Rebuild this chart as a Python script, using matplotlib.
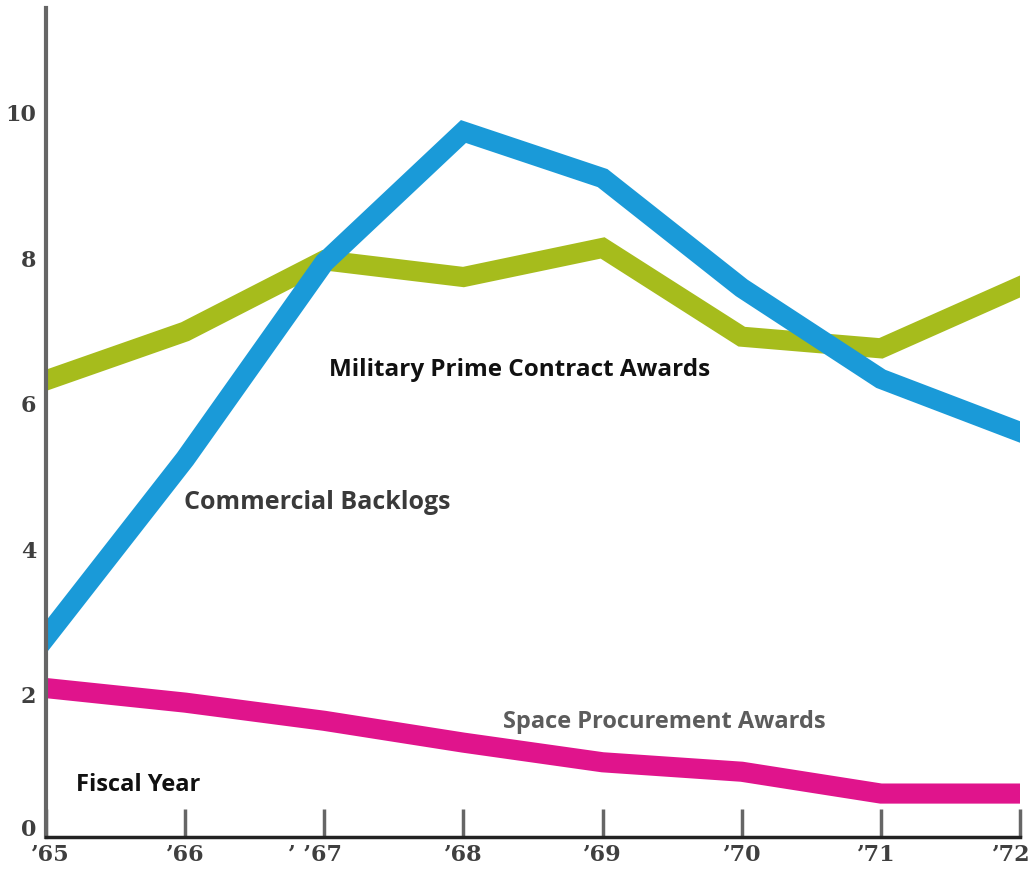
import matplotlib.pyplot as plt
import numpy as np

# Fiscal years and the three series (billions of dollars)
years = ["’65", "’66", "’ ’67", "’68", "’69", "’70", "’71", "’72"]
commercial_backlogs = [2.75, 5.2, 7.9, 9.7, 9.06, 7.55, 6.3, 5.57]
military_awards = [6.28, 6.95, 7.93, 7.7, 8.1, 6.88, 6.72, 7.57]
space_awards = [2.05, 1.85, 1.6, 1.3, 1.03, 0.9, 0.6, 0.6]

y_ticks = [0, 2, 4, 6, 8, 10]

blue = "#1a9ad8"
green = "#a6bc1c"
pink = "#e0148c"
axis_grey = "#666666"
label_grey = "#3f3f3f"

# small nudges (points) for the hand-set year labels
year_dx = [3, 0, -7, 0, 0, 0, -3, -6]

x = np.arange(len(years))

fig = plt.figure(figsize=(10.34, 8.73), dpi=100)
ax = fig.add_axes([0.0445, 0.041, 0.942, 0.95])

line_kw = dict(linewidth=14.5, solid_capstyle="projecting", solid_joinstyle="miter")
ax.plot(x, space_awards, color=pink, **line_kw)
ax.plot(x, military_awards, color=green, **line_kw)
ax.plot(x, commercial_backlogs, color=blue, **line_kw)

ax.set_xlim(0, len(years) - 1)
ax.set_ylim(0, 11.4)

# Axes: grey left spine, dark baseline, upward ticks on the years
for side in ("top", "right"):
    ax.spines[side].set_visible(False)
ax.spines["left"].set_color(axis_grey)
ax.spines["left"].set_linewidth(3)
ax.spines["bottom"].set_color("#222222")
ax.spines["bottom"].set_linewidth(2.5)

ax.set_xticks(x)
ax.set_yticks(y_ticks)
ax.tick_params(axis="x", direction="in", length=20, width=2.5, color=axis_grey,
               labelbottom=False)
ax.tick_params(axis="y", length=0, labelleft=False)

tick_font = dict(family="DejaVu Serif", fontweight="bold", fontsize=16,
                 color=label_grey)
for xi, lab, dx in zip(x, years, year_dx):
    ax.annotate(lab, xy=(xi, 0), xycoords=("data", "axes fraction"),
                xytext=(dx, -5), textcoords="offset points",
                ha="center", va="top", **tick_font)
for v in y_ticks:
    dy = 5 if v == 0 else -4
    ax.annotate(str(v), xy=(0, v), xycoords=("axes fraction", "data"),
                xytext=(-7, dy), textcoords="offset points",
                ha="right", va="center", **tick_font)

# Series labels written on the chart
ax.text(3.4, 6.42, "Military Prime Contract Awards", ha="center", va="center",
        fontsize=17.5, fontweight="bold", family="Open Sans", color="#111111")
ax.text(1.95, 4.6, "Commercial Backlogs", ha="center", va="center",
        fontsize=18, fontweight="bold", family="Open Sans", color="#3a3a3a")
ax.text(4.44, 1.58, "Space Procurement Awards", ha="center", va="center",
        fontsize=17, fontweight="bold", family="Open Sans", color="#5c5c5c")
ax.text(0.66, 0.72, "Fiscal Year", ha="center", va="center",
        fontsize=17, fontweight="bold", family="Open Sans", color="#111111")

fig.savefig("out.png", dpi=100)
